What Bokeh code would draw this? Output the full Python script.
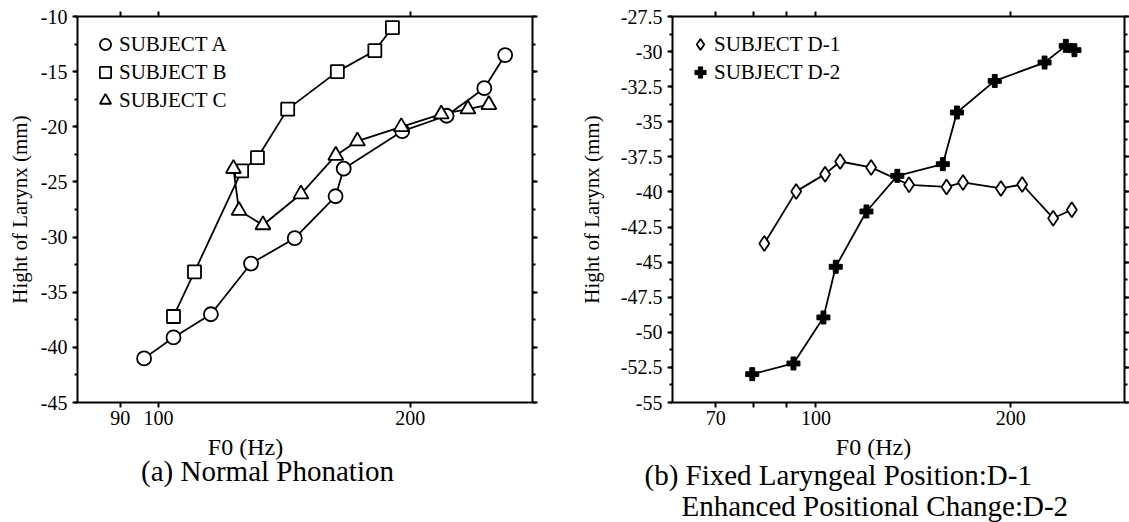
from bokeh.plotting import figure
from bokeh.layouts import row, column
from bokeh.models import FixedTicker, LogAxis, LinearAxis, Range1d
from bokeh.core.properties import value
from bokeh.embed import file_html
from bokeh.resources import INLINE

# ---------------- data: (a) Normal Phonation ----------------
a_f0 = [96.1, 104.2, 115.5, 129.0, 145.5, 162.8, 166.5, 195.6, 221.0, 245.2, 259.7]
a_h = [-41.0, -39.1, -37.0, -32.4, -30.1, -26.3, -23.8, -20.4, -19.0, -16.5, -13.5]
b_f0 = [104.2, 110.4, 125.7, 131.3, 142.7, 163.6, 181.4, 190.4]
b_h = [-37.2, -33.15, -24.0, -22.8, -18.4, -15.0, -13.1, -11.0]
c_f0 = [122.9, 124.8, 133.3, 148.0, 162.9, 172.9, 195.1, 217.8, 234.4, 248.3]
c_h = [-23.8, -27.6, -28.9, -26.1, -22.6, -21.3, -20.0, -18.85, -18.4, -18.0]

# ---------------- data: (b) D-1 / D-2 ----------------
d1_f0 = [83.2, 93.2, 103.3, 109.0, 121.7, 139.3, 159.2, 168.8, 193.2, 208.4, 232.7, 248.7]
d1_h = [-43.67, -39.96, -38.73, -37.83, -38.25, -39.49, -39.64, -39.32, -39.75, -39.47, -41.87, -41.27]
d2_f0 = [79.7, 92.3, 102.7, 107.3, 119.7, 133.6, 157.1, 165.2, 189.0, 225.7, 243.4, 251.0]
d2_h = [-52.98, -52.22, -48.94, -45.33, -41.39, -38.85, -38.02, -34.34, -32.09, -30.78, -29.59, -29.9]

# ---------------- ticks / labels ----------------
a_xticks = [90, 100, 200]
a_xlabels = ["90", "100", "200"]
a_yticks = [-45, -40, -35, -30, -25, -20, -15, -10]
a_ylabels = ["-45", "-40", "-35", "-30", "-25", "-20", "-15", "-10"]
a_yminor = [-45, -42.5, -40, -37.5, -35, -32.5, -30, -27.5, -25, -22.5, -20, -17.5, -15, -12.5, -10]
b_xticks = [70, 80, 90, 100, 200]
b_xlabels = ["70", "", "", "100", "200"]
b_yticks = [-55, -52.5, -50, -47.5, -45, -42.5, -40, -37.5, -35, -32.5, -30, -27.5]
b_ylabels = ["-55", "-52.5", "-50", "-47.5", "-45", "-42.5", "-40", "-37.5", "-35", "-32.5", "-30", "-27.5"]
b_yminor = [-55, -53.75, -52.5, -51.25, -50, -48.75, -47.5, -46.25, -45, -43.75, -42.5, -41.25,
            -40, -38.75, -37.5, -36.25, -35, -33.75, -32.5, -31.25, -30, -28.75, -27.5]

y_title = "Hight of Larynx (mm)"
x_title = "F0 (Hz)"
cap_a = "(a) Normal Phonation"
cap_b1 = "(b) Fixed Laryngeal Position:D-1"
cap_b2 = "Enhanced Positional Change:D-2"

SERIF = "Liberation Serif"
W1, W2, H_TOP = 560, 569, 432
H_BOT = 522 - H_TOP
LW = 1.8


def style(p, xt, xl, yt, yl, ym):
    p.outline_line_color = None
    p.xgrid.visible = False
    p.ygrid.visible = False
    p.background_fill_color = "white"
    p.border_fill_color = "white"
    xa = p.xaxis[0]
    xa.ticker = FixedTicker(ticks=xt)
    xa.major_label_overrides = {t: l for t, l in zip(xt, xl)}
    ya = p.yaxis[0]
    ya.ticker = FixedTicker(ticks=yt, minor_ticks=ym)
    ya.major_label_overrides = {t: l for t, l in zip(yt, yl)}
    ya.axis_label = y_title
    ya.axis_label_text_font = SERIF
    ya.axis_label_text_font_size = "21px"
    ya.axis_label_text_font_style = "normal"
    ya.axis_label_text_color = "black"
    top = LogAxis(ticker=FixedTicker(ticks=xt), major_label_text_font_size="1px",
                  major_label_text_color=None, major_label_standoff=0)
    right = LinearAxis(ticker=FixedTicker(ticks=yt, minor_ticks=ym),
                       major_label_text_font_size="1px", major_label_text_color=None,
                       major_label_standoff=0)
    p.add_layout(top, "above")
    p.add_layout(right, "right")
    for ax in [xa, ya, top, right]:
        ax.axis_line_width = 2
        ax.axis_line_color = "black"
        ax.major_tick_line_width = 2
        ax.major_tick_line_color = "black"
        ax.major_tick_in = 0
        ax.major_tick_out = 5
        ax.minor_tick_in = 0
        ax.minor_tick_out = 3
        ax.minor_tick_line_width = 2
        ax.minor_tick_line_color = "black"
        ax.major_label_text_font = SERIF
    for ax in [xa, ya]:
        ax.major_label_text_color = "black"
        ax.major_label_text_font_size = "20px"
    for ax in [xa, top]:
        ax.minor_tick_line_color = None
    xa.major_label_standoff = 3
    ya.major_label_standoff = 5
    lg = p.legend[0]
    lg.location = "top_left"
    lg.border_line_color = None
    lg.background_fill_alpha = 0
    lg.label_text_font = SERIF
    lg.label_text_font_size = "21px"
    lg.label_text_color = "black"
    lg.glyph_width = 28
    lg.glyph_height = 28
    lg.label_height = 20
    lg.spacing = 0
    lg.padding = 10
    lg.margin = 14
    lg.label_standoff = 0


# ---------------- figure (a) ----------------
p1 = figure(width=W1, height=H_TOP, x_axis_type="log", x_range=(80, 280), y_range=(-45, -10),
            output_backend="svg", toolbar_location=None,
            min_border_left=77, min_border_right=28, min_border_top=16, min_border_bottom=30)
p1.line(a_f0, a_h, line_color="black", line_width=LW)
p1.line(b_f0, b_h, line_color="black", line_width=LW)
p1.line(c_f0, c_h, line_color="black", line_width=LW)
p1.scatter(a_f0, a_h, marker="circle", size=14, fill_color="white", line_color="black",
           line_width=LW, legend_label="SUBJECT A")
p1.scatter(b_f0, b_h, marker="square", size=13, fill_color="white", line_color="black",
           line_width=LW, legend_label="SUBJECT B")
p1.scatter(c_f0, c_h, marker="triangle", size=15, fill_color="white", line_color="black",
           line_width=LW, legend_label="SUBJECT C")
style(p1, a_xticks, a_xlabels, a_yticks, a_ylabels, a_yminor)
p1.yaxis[0].axis_label_standoff = 6

# ---------------- figure (b) ----------------
p2 = figure(width=W2, height=H_TOP, x_axis_type="log", x_range=(60, 300), y_range=(-55, -27.5),
            output_backend="svg", toolbar_location=None,
            min_border_left=112, min_border_right=2, min_border_top=16, min_border_bottom=30)
p2.line(d1_f0, d1_h, line_color="black", line_width=LW)
p2.line(d2_f0, d2_h, line_color="black", line_width=LW)
p2.scatter(d1_f0, d1_h, marker="diamond", size=15, fill_color="white", line_color="black",
           line_width=LW, legend_label="SUBJECT D-1")
p2.scatter(d2_f0, d2_h, marker="plus", size=13, fill_color="black", line_color="black",
           line_width=1, legend_label="SUBJECT D-2")
style(p2, b_xticks, b_xlabels, b_yticks, b_ylabels, b_yminor)
p2.yaxis[0].axis_label_standoff = 14

# ---------------- caption strip (x titles + captions) ----------------
p3 = figure(width=W1 + W2, height=H_BOT, x_range=Range1d(0, W1 + W2), y_range=Range1d(H_BOT, 0),
            output_backend="svg", toolbar_location=None,
            min_border_left=0, min_border_right=0, min_border_top=0, min_border_bottom=0)
p3.axis.visible = False
p3.grid.visible = False
p3.outline_line_color = None
p3.background_fill_color = "white"
p3.border_fill_color = "white"
p3.text(x=[245, 873], y=[14, 14], text=[x_title, x_title], text_font=value(SERIF),
        text_font_size=value("24px"), text_align="center", text_baseline="middle",
        text_color="black")
p3.text(x=[267], y=[38], text=[cap_a], text_font=value(SERIF), text_font_size=value("29px"),
        text_align="center", text_baseline="middle", text_color="black")
p3.text(x=[644, 681], y=[42, 73], text=[cap_b1, cap_b2], text_font=value(SERIF),
        text_font_size=value("29px"), text_align="left", text_baseline="middle",
        text_color="black")

layout = column(row(p1, p2), p3)
open("out.html", "w").write(file_html(layout, INLINE))
